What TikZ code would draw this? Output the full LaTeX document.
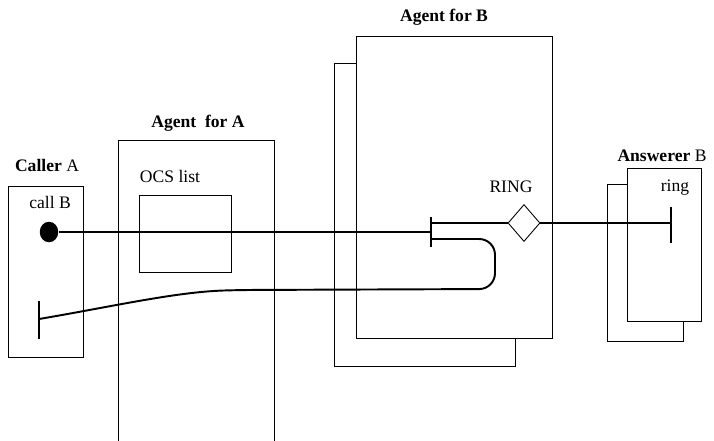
\documentclass[tikz,border=0pt]{standalone}
\usepackage{fontspec}
\setmainfont{Liberation Serif}
\usetikzlibrary{shapes.geometric,fit}
\begin{document}
\begin{tikzpicture}[x=0.02cm,y=-0.02cm,
    box/.style={draw, inner sep=0pt, line width=0.5pt},
    wire/.style={line width=1.1pt},
    lbl/.style={inner sep=0pt}]
    \useasboundingbox (0,0) rectangle (714,440);

    % --- Caller A ---
    \node[box, fit={(8,186) (83,357)}] (callerbox) {};
    \node[lbl] (callerlbl) at (47,165) {\textbf{Caller} A};
    \node[lbl] (calllbl) at (50,202) {call B};
    \node[ellipse, fill, minimum width=0.37cm, minimum height=0.41cm, inner sep=0pt] (callB) at (49,232) {};
    \coordinate (tonetop) at (39,301);
    \coordinate (tonebar) at (39,319);
    \coordinate (tonebot) at (39,339);
    \draw[wire] (tonetop) -- (tonebot);

    % --- Agent for A ---
    \node[box, fit={(118,140) (274,470)}] (agentA) {};
    \node[lbl] (agentAlbl) at (198,123) {\textbf{Agent\ \ for A}};
    \node[lbl] (ocslbl) at (170,176) {OCS list};
    \node[box, fit={(139,195) (231,272)}] (ocs) {};

    % --- Agent for B (due riquadri sovrapposti) ---
    \node[box, fit={(334,63) (515,366)}] (agentBback) {};
    \node[box, fill=white, fit={(356,36) (552,338)}] (agentB) {};
    \node[lbl] (agentBlbl) at (444,17) {\textbf{Agent for B}};
    \node[lbl] (ringlbl) at (511,187) {RING};
    \node[diamond, draw, line width=0.5pt, fill=white, minimum width=0.64cm, minimum height=0.74cm, inner sep=0pt, aspect=0.86] (ring) at (524,223) {};

    % barra di attesa
    \coordinate (holdtop) at (431,217);
    \coordinate (holdout) at (431,223);
    \coordinate (holdin) at (431,232);
    \coordinate (holdret) at (431,239);
    \coordinate (holdbot) at (431,247);
    \draw[wire] (holdtop) -- (holdbot);

    % --- Answerer B ---
    \node[box, fit={(607,184) (683,341)}] (answback) {};
    \node[box, fill=white, fit={(627,168) (701,321)}] (answerer) {};
    \node[lbl] (answlbl) at (662,156) {\textbf{Answerer} B};
    \node[lbl] (ringsmall) at (675,188) {ring};
    \coordinate (rbtop) at (671,207);
    \coordinate (rbar) at (671,223);
    \coordinate (rbbot) at (671,243);
    \draw[wire] (rbtop) -- (rbbot);

    % --- connessioni ---
    \draw[wire] (callB) -- (holdin);
    \draw[wire] (holdout) -- (ring.west);
    \draw[wire] (ring.east) -- (rbar);
    \draw[wire] (holdret) [rounded corners=9pt] -- (495,239) -- (495,289) -- (240,290)
        [sharp corners] .. controls (175,292) and (110,307) .. (tonebar);
\end{tikzpicture}
\end{document}
